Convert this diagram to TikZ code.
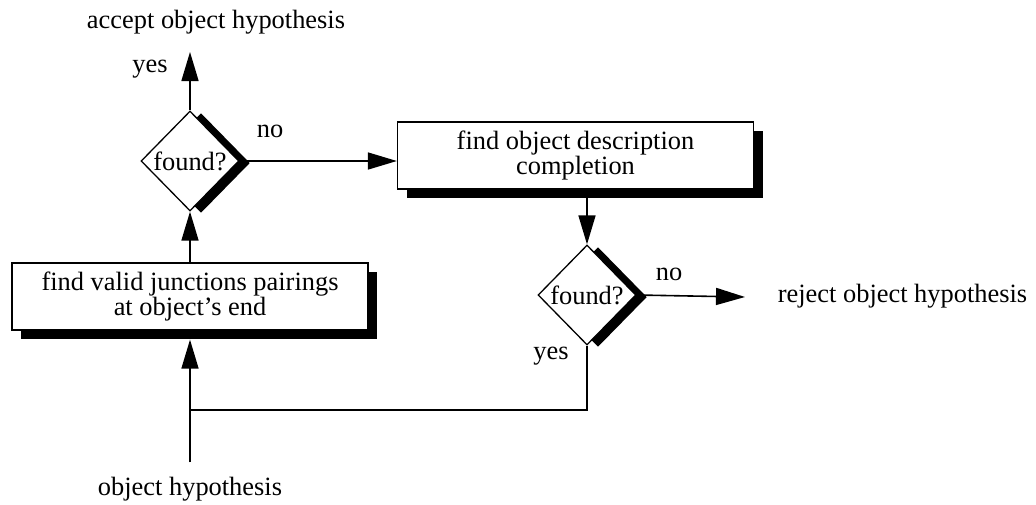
\documentclass[tikz,border=0pt]{standalone}
\usepackage{fontspec}
\setmainfont{Liberation Serif}
\usetikzlibrary{shapes.geometric,shadows,arrows.meta}

\begin{document}
\begin{tikzpicture}[x=1pt,y=1pt,
    font=\fontsize{26.4}{24.5}\selectfont,
    box/.style={draw,rectangle,line width=1.3pt,fill=white,align=center,
      minimum width=356pt,minimum height=67pt,
      drop shadow={shadow xshift=9pt,shadow yshift=-9pt,opacity=1,fill=black}},
    test/.style={draw,diamond,line width=1.3pt,fill=white,inner sep=0pt,
      minimum width=98pt,minimum height=100pt,
      drop shadow={shadow xshift=11pt,shadow yshift=-2pt,opacity=1,fill=black}},
    lbl/.style={anchor=base,inner sep=0pt},
    arr/.style={line width=1.6pt,-{Triangle[length=29pt,width=17pt]}},
    wire/.style={line width=1.6pt}]
    \useasboundingbox (0,0) rectangle (1036,-504);

    \node[box] (pairs) at (190,-296.5) {find valid junctions pairings\\at object's end};
    \node[box] (compl) at (575.5,-155.5) {find object description\\completion};
    \node[test] (found1) at (190,-161) {found?};
    \node[test] (found2) at (587,-295) {found?};

    \node[lbl] (accept) at (216,-28) {accept object hypothesis};
    \node[lbl] (reject) at (902.5,-302) {reject object hypothesis};
    \node[lbl] (hyp) at (190,-495) {object hypothesis};
    \node[lbl] (yes1) at (150,-72) {yes};
    \node[lbl] (no1) at (270,-137) {no};
    \node[lbl] (no2) at (669,-280) {no};
    \node[lbl] (yes2) at (551,-359) {yes};

    \coordinate (accepttip) at (190,-52);
    \coordinate (rejecttip) at (745,-297);
    \coordinate (merge) at (190,-410);

    % arrows
    \draw[arr] (found1.north) -- (accepttip);
    \draw[arr] (found1.east) -- (found1.east -| compl.west);
    \draw[arr] (compl.south -| found2) -- (found2.north);
    \draw[arr] (found2.east) -- (rejecttip);
    \draw[wire] (found2.south) |- (merge);
    \draw[arr,shorten <=14pt] (hyp.north) -- ([yshift=-9pt]pairs.south);
    \draw[arr] (pairs.north) -- (found1.south);

\end{tikzpicture}
\end{document}
